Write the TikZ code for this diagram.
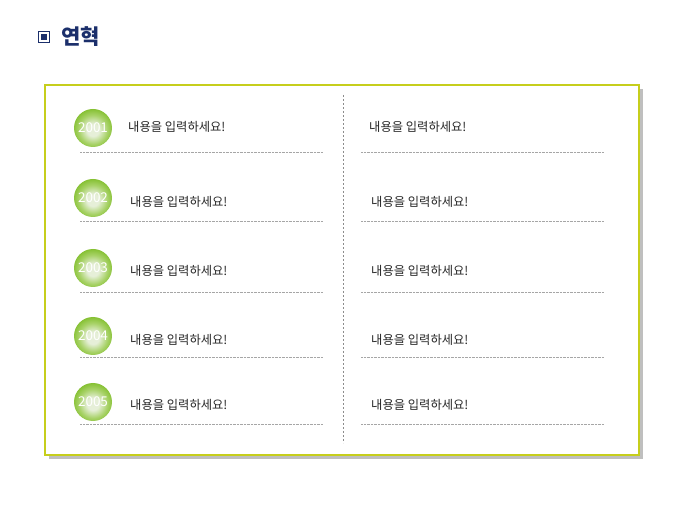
\documentclass[tikz,border=0pt]{standalone}
\usepackage{fontspec}
\newfontfamily\kr{Noto Sans CJK KR}
\usetikzlibrary{calc}
\definecolor{navy}{HTML}{1B2F6B}
\definecolor{frameYG}{HTML}{C6CE1C}
\definecolor{ballG}{HTML}{80BE2A}
\definecolor{ballL}{HTML}{E6EFD8}
\definecolor{ballM}{HTML}{A8D268}
\pgfdeclareradialshading{ballsh}{\pgfpoint{0bp}{-3bp}}{color(0bp)=(ballL); color(8bp)=(ballL); color(19bp)=(ballM); color(28bp)=(ballG); color(60bp)=(ballG)}
\tikzset{
  txt/.style={anchor=west, inner sep=0pt, font=\kr\fontsize{12.3}{14}\selectfont, text=black!85},
  yearball/.style={circle, minimum size=38pt, inner sep=0pt, shading=ballsh,
     font=\kr\fontsize{13.5}{14}\selectfont, text=white},
  dotline/.style={draw=black!35, line width=0.7pt, dash pattern=on 0.7pt off 0.7pt},
}
\begin{document}
\begin{tikzpicture}[x=1pt,y=-1pt]
\useasboundingbox (0,0) rectangle (680,510);
% title
\node[draw=navy, line width=1pt, minimum size=11.5pt, inner sep=0pt] (ico) at (44,37) {};
\node[fill=navy, minimum size=6.5pt, inner sep=0pt] (icoin) at (44,37) {};
\node[anchor=west, inner sep=0pt, font=\kr\bfseries\fontsize{21}{23}\selectfont, text=navy] (title) at (61,37) {연혁};
% frame with shadow
\fill[black!25] (49,89) rectangle (643,459);
\draw[frameYG, line width=2.2pt, fill=white] (45,85) rectangle (639,455);
\node[inner sep=0pt, minimum width=594pt, minimum height=370pt] (frame) at (342,270) {};
% vertical divider
\coordinate (vt) at (343,95);
\coordinate (vb) at (343,443);
\draw[black!45, line width=0.6pt, dash pattern=on 2pt off 2pt] (vt) -- (vb);
% rows
\foreach \i/\yb/\yt/\yl/\xl in {1/128/127/152/128, 2/198/202/221/130, 3/268/271/292/130, 4/336/340/357/130, 5/402/405/424/130}{
  \node[yearball] (b\i) at (93,\yb) {200\i};
  \node[txt] (l\i) at (\xl,\yt) {내용을 입력하세요!};
  \node[txt] (r\i) at (\xl+241,\yt) {내용을 입력하세요!};
  \coordinate (la\i) at (80,\yl);
  \coordinate (lb\i) at (323,\yl);
  \coordinate (ra\i) at (361,\yl);
  \coordinate (rb\i) at (604,\yl);
  \draw[dotline] (la\i) -- (lb\i);
  \draw[dotline] (ra\i) -- (rb\i);
}
\end{tikzpicture}
\end{document}
